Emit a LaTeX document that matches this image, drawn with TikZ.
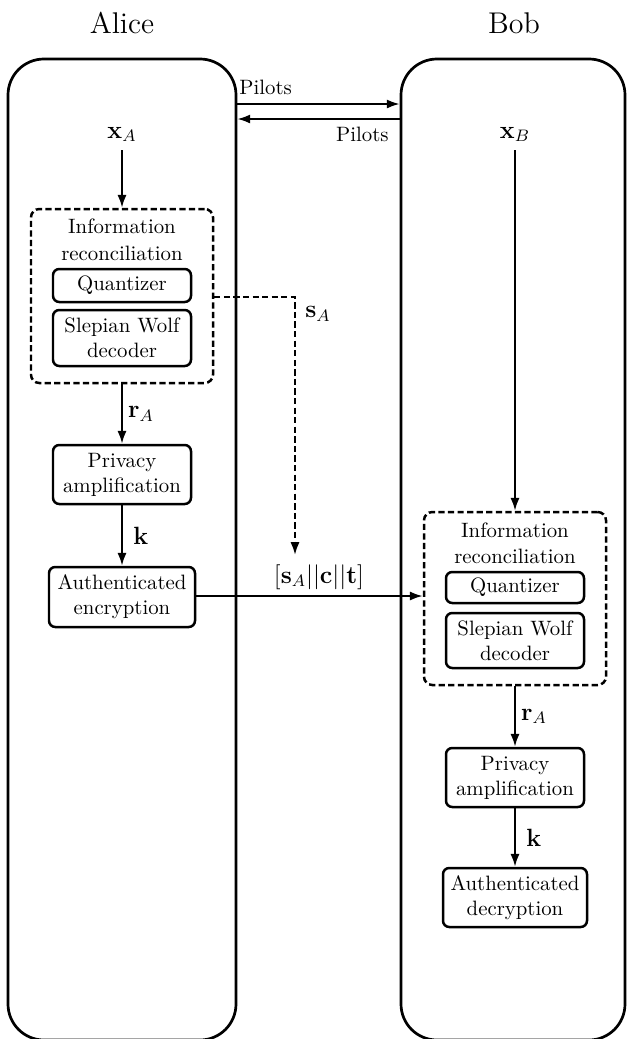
\documentclass[tikz,border=0pt]{standalone}
\usetikzlibrary{arrows.meta}
\def\pxu{0.4808pt}
\tikzset{
  bigbox/.style={draw, line width=1.3pt, rounded corners=17.3pt, inner sep=0pt},
  blk/.style={draw, line width=1.2pt, rounded corners=3pt, inner sep=0pt, align=center, minimum width=138*\pxu},
  dbox/.style={draw, line width=1.2pt, dash pattern=on 3pt off 1.6pt, rounded corners=4pt, inner sep=0pt, minimum width=182*\pxu},
  arr/.style={line width=1pt, -{Latex[length=6.2pt,width=4.4pt]}},
  darr/.style={line width=1pt, dash pattern=on 3pt off 1.6pt, -{Latex[length=6.2pt,width=4.4pt]}},
  lbl/.style={inner sep=0pt},
  mlbl/.style={inner sep=0pt, font=\large},
  title/.style={font=\Large, inner sep=0pt, anchor=base},
}
\begin{document}
\begin{tikzpicture}[x=0.4808pt, y=-0.4808pt]
\useasboundingbox (0,0) rectangle (628,1039);
% titles
\node[title] (talice) at (122,33) {Alice};
\node[title] (tbob) at (514,33) {Bob};
% big boxes
\node[bigbox, minimum width=228*\pxu, minimum height=981*\pxu] (alice) at (122,549.5) {};
\node[bigbox, minimum width=224*\pxu, minimum height=981*\pxu] (bob) at (513,549.5) {};
% pilots
\draw[arr] (alice.east |- 0,104) -- (bob.west |- 0,104);
\draw[arr] (bob.west |- 0,119) -- (alice.east |- 0,119);
\node[lbl, anchor=base west] (p1) at (239,94) {Pilots};
\node[lbl, anchor=base east] (p2) at (389,141) {Pilots};
% Alice side
\node[mlbl, anchor=base, inner sep=4pt] (xA) at (122,138) {$\mathbf{x}_A$};
\node[dbox, minimum height=174*\pxu] (irA) at (122,296) {};
\node[lbl, anchor=base] (irA1) at (122,233) {Information};
\node[lbl, anchor=base] (irA2) at (122,260) {reconciliation};
\node[blk, minimum height=33*\pxu] (qA) at (122,285.5) {Quantizer};
\node[blk, minimum height=56*\pxu] (swA) at (122,338) {Slepian Wolf\\decoder};
\node[blk, minimum height=59*\pxu] (paA) at (122,474.5) {Privacy\\amplification};
\node[blk, minimum width=146*\pxu, minimum height=60*\pxu] (enc) at (122,597) {Authenticated\\encryption};
\draw[arr] (xA.south) -- (irA.north);
\draw[arr] (irA.south) -- node[mlbl, right, inner sep=2.5pt] (rA1) {$\mathbf{r}_A$} (paA.north);
\draw[arr] (paA.south) -- node[mlbl, right, inner sep=5pt] (k1) {$\mathbf{k}$} (enc.north);
\coordinate (sAend) at (295,555);
\draw[darr] (irA.east |- 0,297) -| (sAend);
\node[mlbl, anchor=west] (sA) at (305,314) {$\mathbf{s}_A$};
% Bob side
\node[mlbl, anchor=base, inner sep=4pt] (xB) at (515,138) {$\mathbf{x}_B$};
\node[dbox, minimum height=173*\pxu] (irB) at (515,598.5) {};
\node[lbl, anchor=base] (irB1) at (515,537) {Information};
\node[lbl, anchor=base] (irB2) at (515,563) {reconciliation};
\node[blk, minimum height=31*\pxu] (qB) at (515,587.5) {Quantizer};
\node[blk, minimum height=55*\pxu] (swB) at (515,640.5) {Slepian Wolf\\decoder};
\node[blk, minimum height=59*\pxu] (paB) at (515,777.5) {Privacy\\amplification};
\node[blk, minimum width=144*\pxu, minimum height=59*\pxu] (dec) at (515,897.5) {Authenticated\\decryption};
\draw[arr] (xB.south) -- (irB.north);
\draw[arr] (irB.south) -- node[mlbl, right, inner sep=2.5pt] (rA2) {$\mathbf{r}_A$} (paB.north);
\draw[arr] (paB.south) -- node[mlbl, right, inner sep=5pt] (k2) {$\mathbf{k}$} (dec.north);
% message
\draw[arr] (enc.east |- 0,596) -- (irB.west |- 0,596);
\node[mlbl] (msg) at (319,577) {$[\mathbf{s}_A||\mathbf{c}||\mathbf{t}]$};
\end{tikzpicture}
\end{document}
